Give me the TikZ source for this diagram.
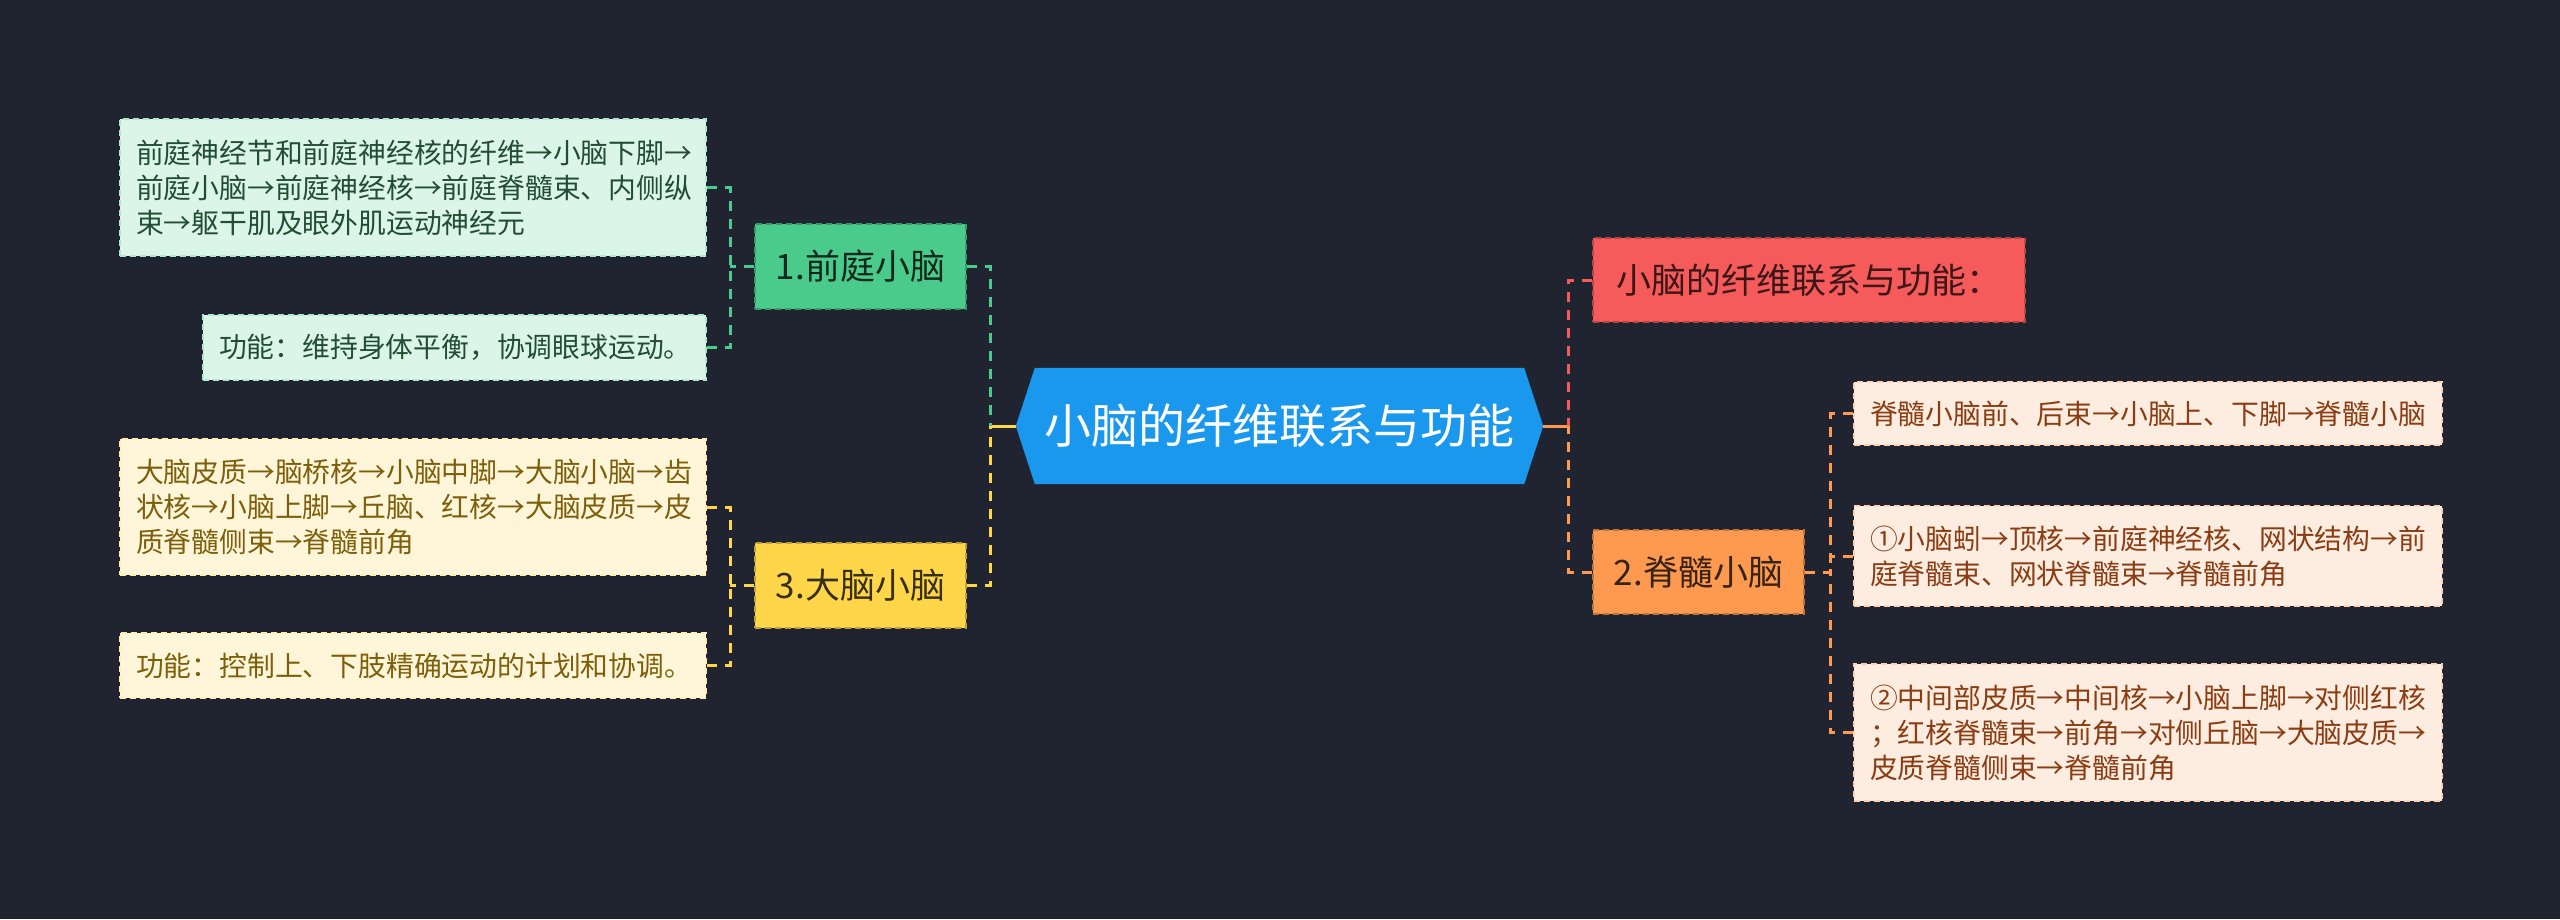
\documentclass[tikz,border=0pt]{standalone}
\usepackage{fontspec}
\setmainfont{Noto Sans CJK SC}
\usetikzlibrary{calc,backgrounds}
\definecolor{bg}{HTML}{202430}
\definecolor{cgreen}{HTML}{4ACB8B}
\definecolor{cmint}{HTML}{DCF5E9}
\definecolor{tgreen}{HTML}{234D33}
\definecolor{cyellow}{HTML}{FFD64A}
\definecolor{ccream}{HTML}{FFF6D9}
\definecolor{tolive}{HTML}{7D5E0A}
\definecolor{cblue}{HTML}{1A98EE}
\definecolor{cred}{HTML}{F65B5B}
\definecolor{corange}{HTML}{FE9A50}
\definecolor{cpeach}{HTML}{FDECE0}
\definecolor{tbrown}{HTML}{8A3C12}
\begin{document}
\begin{tikzpicture}[x=1pt,y=-1pt,
  leaf/.style={anchor=north west, align=left, inner xsep=16pt, inner ysep=0pt,
    line width=2pt, dash pattern=on 6pt off 4pt,
    font=\fontsize{27.8pt}{35pt}\selectfont},
  leafG/.style={leaf, fill=cmint, draw=cmint!70!cgreen, text=tgreen},
  leafY/.style={leaf, fill=ccream, draw=ccream!70!cyellow, text=tolive},
  leafO/.style={leaf, fill=cpeach, draw=cpeach!70!corange, text=tbrown},
  branch/.style={align=center, inner sep=0pt, line width=2pt, dash pattern=on 6pt off 4pt,
    font=\fontsize{35pt}{40pt}\selectfont},
  conn/.style={line width=3pt, dash pattern=on 10pt off 8pt},
  connsolid/.style={line width=3pt}
]
% nodes
\node[leafG, text width=554pt, minimum height=137pt] (a1) at (119,118)
  {前庭神经节和前庭神经核的纤维→小脑下脚→\\前庭小脑→前庭神经核→前庭脊髓束、内侧纵\\束→躯干肌及眼外肌运动神经元};
\node[leafG, text width=471pt, minimum height=65pt] (a2) at (202,314)
  {功能：维持身体平衡，协调眼球运动。};
\node[leafY, text width=554pt, minimum height=136pt] (c1) at (119,438)
  {大脑皮质→脑桥核→小脑中脚→大脑小脑→齿\\状核→小脑上脚→丘脑、红核→大脑皮质→皮\\质脊髓侧束→脊髓前角};
\node[leafY, text width=554pt, minimum height=65pt] (c2) at (119,632)
  {功能：控制上、下肢精确运动的计划和协调。};
\node[branch, fill=cgreen, draw=cgreen!75!black, text=black!80!cgreen,
  minimum width=211pt, minimum height=85pt] (n1) at (860.5,266.5) {1.前庭小脑};
\node[branch, fill=cyellow, draw=cyellow!75!black, text=black!78!cyellow,
  minimum width=211pt, minimum height=85pt] (n3) at (860.5,585.5) {3.大脑小脑};
\node[font=\fontsize{47pt}{52pt}\selectfont, text=white, inner sep=0pt,
  minimum width=527pt, minimum height=116pt] (c) at (1279.5,426) {小脑的纤维联系与功能};
\node[branch, fill=cred, draw=cred!75!black, text=black!75!cred,
  minimum width=432pt, minimum height=84pt] (r) at (1809,280) {小脑的纤维联系与功能：};
\node[branch, fill=corange, draw=corange!75!black, text=black!78!corange,
  minimum width=211pt, minimum height=84pt] (n2) at (1698.5,572) {2.脊髓小脑};
\node[leafO, text width=556pt, minimum height=63pt] (d1) at (1853,381)
  {脊髓小脑前、后束→小脑上、下脚→脊髓小脑};
\node[leafO, text width=556pt, minimum height=100pt] (d2) at (1853,505)
  {①小脑蚓→顶核→前庭神经核、网状结构→前\\庭脊髓束、网状脊髓束→脊髓前角};
\node[leafO, text width=556pt, minimum height=137pt] (d3) at (1853,663)
  {②中间部皮质→中间核→小脑上脚→对侧红核\\；红核脊髓束→前角→对侧丘脑→大脑皮质→\\皮质脊髓侧束→脊髓前角};
% background and central hexagon
\begin{pgfonlayer}{background}
\fill[bg] (0,0) rectangle (2560,919);
\fill[cblue] (c.west) -- ($(c.north west)+(19,0)$) -- ($(c.north east)+(-19,0)$)
  -- (c.east) -- ($(c.south east)+(-19,0)$) -- ($(c.south west)+(19,0)$) -- cycle;
\end{pgfonlayer}
% connectors: left side
\draw[connsolid, cyellow] (c.west) -- ++(-25,0) coordinate (jL);
\draw[conn, cgreen] (n1.east) -| (jL);
\draw[conn, cyellow] (n3.east) -| (jL);
% right side
\draw[connsolid, corange] (c.east) -- ++(25,0) coordinate (jR);
\draw[conn, cred] (r.west) -| (jR);
\draw[conn, corange] (n2.west) -| (jR);
% node 1 children
\coordinate (j1) at ($(n1.west)+(-24,0)$);
\draw[conn, cgreen] (n1.west) -- (j1);
\draw[conn, cgreen] (a1.east) -| (j1);
\draw[conn, cgreen] (a2.east) -| (j1);
% node 3 children
\coordinate (j3) at ($(n3.west)+(-24,0)$);
\draw[conn, cyellow] (n3.west) -- (j3);
\draw[conn, cyellow] (c1.east) -| (j3);
\draw[conn, cyellow] (c2.east) -| (j3);
% node 2 children
\coordinate (j2) at ($(n2.east)+(25,0)$);
\draw[conn, corange] (n2.east) -- (j2);
\draw[conn, corange] (d1.west) -| (j2);
\draw[conn, corange] (d2.west) -| (j2);
\draw[conn, corange] (d3.west) -| (j2);
\end{tikzpicture}
\end{document}
